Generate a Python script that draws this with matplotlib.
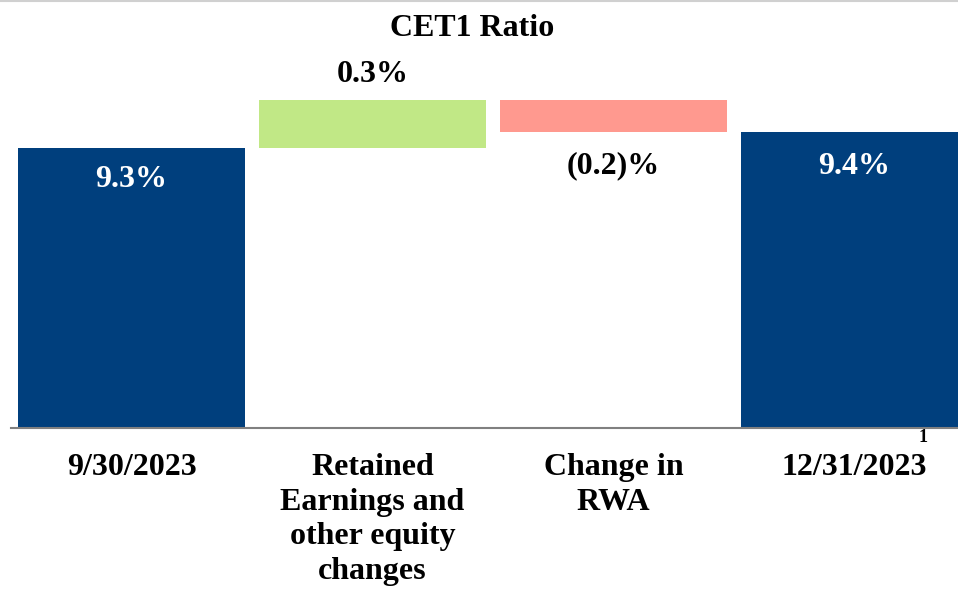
import matplotlib
matplotlib.use("Agg")
import matplotlib.pyplot as plt
from matplotlib.lines import Line2D
import matplotlib.transforms as mtrans

# Data
categories = ["9/30/2023", "Retained\nEarnings and\nother equity\nchanges", "Change in\nRWA", "12/31/2023"]
start_value = 9.3
changes = [0.3, -0.2]
end_value = 9.4
value_labels = ["9.3%", "0.3%", "(0.2)%", "9.4%"]
title = "CET1 Ratio"

W, H = 958, 592
fig = plt.figure(figsize=(W / 100, H / 100), dpi=100)
plt.rcParams['font.family'] = ['Liberation Serif', 'DejaVu Serif']

# axes geometry in pixels
ax_left_px, ax_width_px = 11, 964
base_px = 428        # baseline from top
top_px = 40
ax = fig.add_axes([ax_left_px / W, (H - base_px) / H, ax_width_px / W, (base_px - top_px) / H])
ymin = 7.55
px_per_unit = 160
ax.set_ylim(ymin, ymin + (base_px - top_px) / px_per_unit)
ax.set_xlim(-0.5, 3.5)

navy = "#003F7D"
green = "#C1E886"
red = "#FF998F"
width = 0.946

# bars
ax.bar(0, start_value - ymin, bottom=ymin, width=width, color=navy)
level = start_value
colors_delta = [green, red]
for i, d in enumerate(changes):
    lo, hi = (level, level + d) if d >= 0 else (level + d, level)
    ax.bar(i + 1, hi - lo, bottom=lo, width=width, color=colors_delta[i])
    level += d
ax.bar(3, end_value - ymin, bottom=ymin, width=width, color=navy)

fs = 23
# value labels
ax.annotate(value_labels[0], (0, start_value), xytext=(0, -23), textcoords="offset points",
            ha="center", va="center", color="white", fontsize=fs, fontweight="bold")
ax.annotate(value_labels[1], (1, start_value + changes[0]), xytext=(0, 18), textcoords="offset points",
            ha="center", va="center", color="black", fontsize=fs, fontweight="bold")
ax.annotate(value_labels[2], (2, start_value + changes[0] + changes[1]), xytext=(0, -24), textcoords="offset points",
            ha="center", va="center", color="black", fontsize=fs, fontweight="bold")
ax.annotate(value_labels[3], (3, end_value), xytext=(0, -25), textcoords="offset points",
            ha="center", va="center", color="white", fontsize=fs, fontweight="bold")

# category labels
off = mtrans.ScaledTranslation(0, -25 / 100, fig.dpi_scale_trans)
for i, c in enumerate(categories):
    ax.text(i, ymin, c, transform=ax.transData + off, ha="center", va="top", fontsize=fs,
            fontweight="bold", linespacing=1.26)
# superscript footnote
ax.annotate("1", (3, ymin), xytext=(46, -1), textcoords="offset points", ha="left", va="top",
            fontsize=13, fontweight="bold")

ax.set_xticks([])
ax.set_yticks([])
for s in ["top", "right", "left"]:
    ax.spines[s].set_visible(False)
ax.spines["bottom"].set_color("#808080")
ax.spines["bottom"].set_linewidth(1.5)
ax.patch.set_visible(False)

fig.text(472 / W, 1 - 28 / H, title, ha="center", va="center", fontsize=fs, fontweight="bold")
fig.add_artist(Line2D([0, 1], [1 - 0.5 / H, 1 - 0.5 / H], color="#d0d0d0", lw=1.5, transform=fig.transFigure))

fig.savefig("out.png", dpi=100)
